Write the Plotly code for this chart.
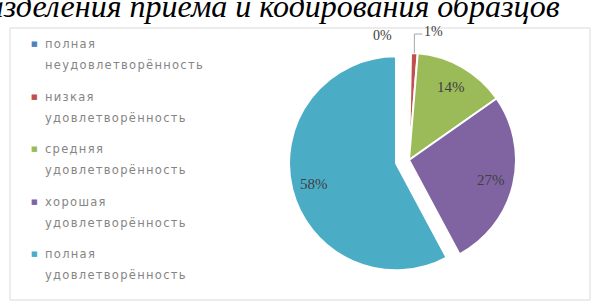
import math
import plotly.graph_objects as go

# ---- data ----
labels = ["полная<br>неудовлетворённость", "низкая<br>удовлетворённость",
          "средняя<br>удовлетворённость", "хорошая<br>удовлетворённость",
          "полная<br>удовлетворённость"]
values = [0.3, 1.0, 14.0, 27.0, 58.0]
colors = ["#4F81BD", "#C0504D", "#9BBB59", "#8064A2", "#4BACC6"]
pulls = [0, 0, 0, 0, 0.125]
title_text = "подразделения приема и кодирования образцов"

W, H = 595, 302

# pie geometry (pixels)
cx, cy, r = 409, 160, 107
half = r * (1 + max(pulls))
dom_x = [(cx - half) / W, (cx + half) / W]
dom_y = [(H - cy - half) / H, (H - cy + half) / H]

fig = go.Figure()
fig.add_trace(go.Pie(
    labels=labels, values=values, sort=False, direction="clockwise", rotation=0,
    marker=dict(colors=colors, line=dict(color="white", width=2)),
    pull=pulls, textinfo="none",
    domain=dict(x=dom_x, y=dom_y), showlegend=False, hoverinfo="skip",
))

def P(x, y):
    return x / W, 1 - y / H

# data labels derived from the values
total = sum(values)
cum = 0.0
lab_font = dict(family="Liberation Serif", size=15, color="#404040")
for i, v in enumerate(values):
    pct = f"{round(v / total * 100):.0f}%"
    mid = math.radians((cum + v / 2) / total * 360)
    cum += v
    ox = cx + pulls[i] * r * math.sin(mid)
    oy = cy - pulls[i] * r * math.cos(mid)
    if v / total > 0.05:
        lx = ox + 0.79 * r * math.sin(mid)
        ly = oy - 0.79 * r * math.cos(mid)
        x, y = P(lx, ly)
        fig.add_annotation(x=x, y=y, xref="paper", yref="paper", text=pct,
                           showarrow=False, xanchor="center", yanchor="middle",
                           font=lab_font)
    elif i == 0:
        x, y = P(cx - 15, cy - r - 17)
        fig.add_annotation(x=x, y=y, xref="paper", yref="paper", text=pct,
                           showarrow=False, xanchor="right", yanchor="middle",
                           font=dict(lab_font, size=14))
    else:
        ex = cx + r * math.sin(mid)
        ey = cy - r * math.cos(mid)
        top = cy - r - 19
        fig.add_shape(type="path", xref="paper", yref="paper",
                      path=f"M {ex/W} {1-ey/H} L {ex/W} {1-top/H} L {(ex+8)/W} {1-top/H}",
                      line=dict(color="#a6a6a6", width=1))
        x, y = P(ex + 8, top - 2)
        fig.add_annotation(x=x, y=y, xref="paper", yref="paper", text=pct,
                           showarrow=False, xanchor="left", yanchor="middle",
                           font=dict(lab_font, size=14))

# chart frame
fig.add_shape(type="rect", xref="paper", yref="paper",
              x0=10 / W, x1=590 / W, y0=1 - 300 / H, y1=1 - 28 / H,
              line=dict(color="#d9d9d9", width=1))

# legend (built from labels/colors)
leg_font = dict(family="DejaVu Sans", size=11.5, color="#858585")
for i, (lab, col) in enumerate(zip(labels, colors)):
    y0 = 44 + 52.6 * i
    first, second = lab.split("<br>")
    fig.add_annotation(x=34.5 / W, y=1 - y0 / H, xref="paper", yref="paper",
                       text="■", showarrow=False, xanchor="center", yanchor="middle",
                       font=dict(family="DejaVu Sans", size=7, color=col))
    for k, t in enumerate((first, second)):
        fig.add_annotation(x=43 / W, y=1 - (y0 + 21 * k) / H, xref="paper", yref="paper",
                           text=f'<span style="letter-spacing:1.3px">{t}</span>',
                           showarrow=False, xanchor="left", yanchor="middle",
                           font=leg_font)

# clipped heading from the page above the chart
fig.add_annotation(x=562 / W, y=1 - 26 / H, xref="paper", yref="paper",
                   text="<i>" + title_text + "</i>", showarrow=False,
                   xanchor="right", yanchor="bottom",
                   font=dict(family="Liberation Serif", size=32, color="black"))

fig.update_layout(width=W, height=H, margin=dict(l=0, r=0, t=0, b=0),
                  paper_bgcolor="white", plot_bgcolor="white", showlegend=False)
fig.write_html("out.html", config={"displayModeBar": False},
               post_script="document.body.style.margin='0';")
